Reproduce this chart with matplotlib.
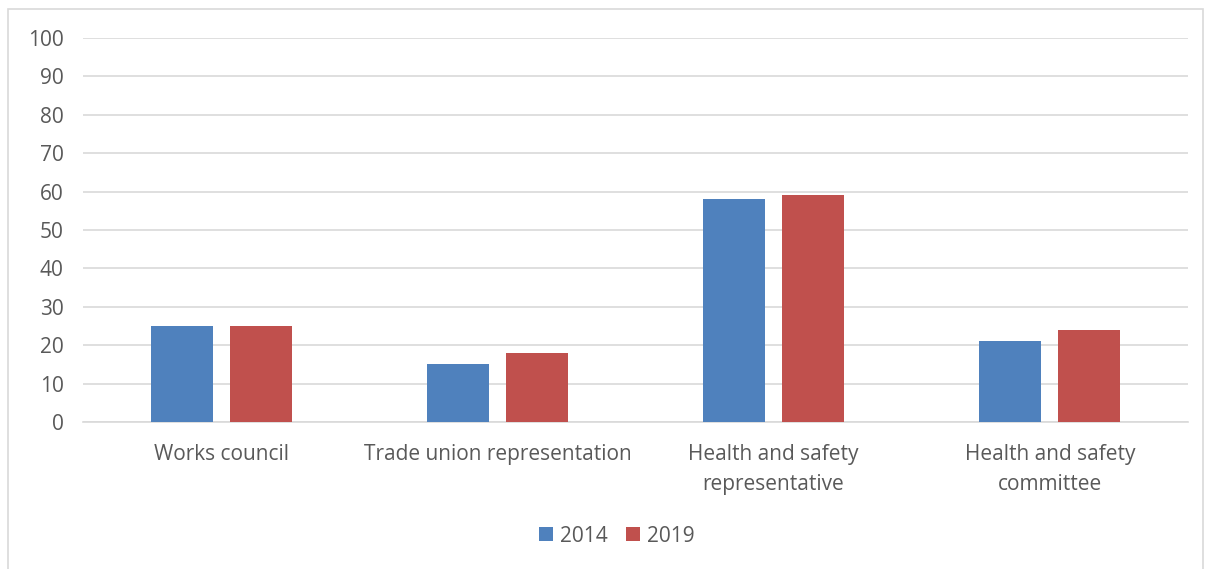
import matplotlib.pyplot as plt
import matplotlib.patches as mpatches
import numpy as np

plt.rcParams['font.family'] = ['Open Sans', 'DejaVu Sans']

# Data
categories = ['Works council', 'Trade union representation',
              'Health and safety\nrepresentative', 'Health and safety\ncommittee']
years = ['2014', '2019']
values_2014 = [25, 15, 58, 21]
values_2019 = [25, 18, 59, 24]
colors = ['#4F81BD', '#C0504D']

fig = plt.figure(figsize=(12.10, 5.69), dpi=100)
ax = fig.add_axes([83 / 1210, 1 - 422 / 569, (1188 - 83) / 1210, (422 - 38) / 569])

# Outer chart border like an Office chart frame
frame = mpatches.Rectangle((8 / 1210, -0.05), (1203 - 8) / 1210, 1 - 9 / 569 + 0.05,
                           transform=fig.transFigure, fill=False,
                           edgecolor='#D9D9D9', linewidth=1.2, zorder=0)
fig.patches.append(frame)

x = np.arange(len(categories))
width = 0.224
offset = 0.143
ax.bar(x - offset, values_2014, width, color=colors[0], label=years[0], zorder=3)
ax.bar(x + offset, values_2019, width, color=colors[1], label=years[1], zorder=3)

ax.set_xlim(-0.5, len(categories) - 0.5)
ax.set_ylim(0, 100)
ax.set_yticks(range(0, 101, 10))
ax.set_xticks(x)
ax.set_xticklabels(categories, linespacing=1.55)

ax.grid(axis='y', color='#D9D9D9', linewidth=1.2, zorder=0)
for side in ['top', 'right', 'left']:
    ax.spines[side].set_visible(False)
ax.spines['bottom'].set_color('#D9D9D9')
ax.spines['bottom'].set_linewidth(1.2)

ax.tick_params(axis='both', length=0, labelsize=15, colors='#595959')
ax.tick_params(axis='y', pad=14)
ax.tick_params(axis='x', pad=16)

leg = ax.legend(loc='center', bbox_to_anchor=((617 - 83) / 1105, 1 - (536 - 38) / 384),
                ncol=2, frameon=False, fontsize=15, handlelength=0.65,
                handleheight=0.65, handletextpad=0.35, columnspacing=0.9)
for t in leg.get_texts():
    t.set_color('#595959')

fig.savefig('out.png', dpi=100)
